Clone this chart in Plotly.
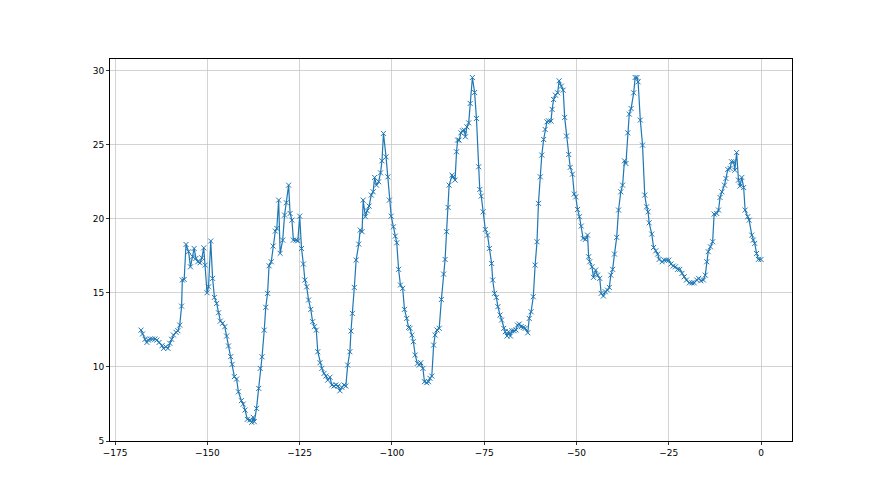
import plotly.graph_objects as go

# hours relative to now, temperature readings
hours = [
    -168.0, -167.6, -166.9, -166.4, -166.0, -165.5, -164.9, -164.2, -163.7, -163.1,
    -162.3, -161.9, -161.3, -160.7, -160.2, -159.7, -159.2, -158.5, -158.0, -157.5,
    -157.0, -156.8, -156.3, -155.8, -155.1, -154.6, -154.0, -153.6, -153.1, -152.6,
    -152.0, -151.5, -151.0, -150.6, -150.1, -149.7, -149.1, -148.6, -148.1, -147.5,
    -147.0, -146.5, -145.9, -145.3, -144.8, -144.3, -143.7, -143.3, -142.7, -142.1,
    -141.6, -140.8, -140.3, -139.8, -139.2,
    -138.5, -138.0, -137.6, -137.3, -136.7, -136.1, -135.7, -135.2, -134.6, -134.2,
    -133.7, -133.3, -132.7, -132.2, -131.6, -131.2, -130.7, -130.3, -129.6, -129.1,
    -128.6, -128.0, -127.6, -127.1, -126.7, -126.0, -125.5, -125.0, -124.5, -124.0,
    -123.6, -123.1, -122.6, -122.0, -121.5, -121.0, -120.5, -120.1, -119.5, -119.0,
    -118.4, -117.9, -117.4, -116.8, -116.3, -115.7, -115.2, -114.6, -114.1, -113.6,
    -113.0, -112.5, -112.0,
    -111.4, -111.1, -110.7, -110.2, -109.7, -109.0, -108.6, -108.1, -107.8, -107.2,
    -106.7, -106.2, -105.6, -105.1, -104.7, -104.2, -103.6, -103.1, -102.7, -102.3,
    -101.6, -101.1, -100.7, -100.2, -99.6, -99.1, -98.7, -98.2, -97.7, -97.1,
    -96.6, -96.0, -95.5, -95.1, -94.6, -94.2, -93.7, -93.1, -92.6, -92.2,
    -91.6, -91.2, -90.6, -90.1, -89.7, -89.2, -88.7, -88.3, -87.8, -87.2,
    -86.6, -86.0, -85.6, -85.2, -84.8, -84.5,
    -83.7, -83.4, -82.9, -82.5, -82.2, -81.8, -81.3, -80.9, -80.4, -80.1,
    -79.7, -79.2, -78.8, -78.2, -77.6, -77.1, -76.5, -76.2, -75.8, -75.3,
    -74.7, -74.1, -73.6, -73.0, -72.7, -72.2, -71.7, -71.3, -70.7, -70.3,
    -69.7, -69.3, -68.8, -68.4, -67.9, -67.5, -66.9, -66.4, -66.0, -65.5,
    -65.0, -64.4, -63.9, -63.2, -62.8, -62.3, -61.7, -61.2, -60.7, -60.3,
    -59.8, -59.4, -58.9, -58.5, -58.0, -57.6,
    -56.9, -56.6, -56.2, -55.7, -55.1, -54.7, -54.1, -53.6, -53.2, -52.7,
    -52.1, -51.7, -51.1, -50.6, -50.2, -49.7, -49.2, -48.7, -48.2, -47.6,
    -47.0, -46.7, -46.4, -45.8, -45.4, -44.8, -44.3, -43.7, -43.3, -42.7,
    -42.2, -41.6, -41.1, -40.7, -40.2, -39.7, -39.1, -38.6, -38.0, -37.5,
    -37.0, -36.6, -36.1, -35.7, -35.2, -34.5, -34.1, -33.6, -33.3, -32.7,
    -32.1, -31.5, -31.0, -30.6, -30.3,
    -29.6, -29.1, -28.5, -28.0, -27.6, -26.8, -26.2, -25.6, -25.0, -24.4,
    -23.8, -23.2, -22.6, -22.0, -21.4, -20.8, -20.2, -19.4, -18.7, -18.1,
    -17.4, -16.9, -16.3, -15.6, -15.1, -14.7, -14.3, -13.7, -13.1, -12.7,
    -12.0, -11.5, -11.1, -10.6, -9.9, -9.5, -9.0, -8.4, -8.0, -7.4,
    -7.1, -6.6, -6.1, -5.7, -5.2, -4.7, -4.3, -3.6, -3.2, -2.5,
    -2.1, -1.7, -1.2, -0.7, 0.0,
]

temps = [
    12.48, 12.22, 11.86, 11.65, 11.81, 11.88, 11.88, 11.88, 11.81, 11.65,
    11.43, 11.25, 11.36, 11.25, 11.59, 11.86, 12.15, 12.33, 12.44, 12.82,
    14.10, 15.86, 15.90, 18.26, 17.77, 16.75, 17.43, 17.99, 17.32, 17.09,
    17.02, 17.36, 18.03, 16.87, 15.00, 15.40, 18.49, 15.97, 14.69, 14.28,
    13.65, 13.09, 12.94, 12.71, 12.08, 11.41, 10.69, 10.17, 9.34, 9.18,
    8.32, 7.72, 7.49, 7.09, 6.46,
    6.42, 6.26, 6.60, 6.30, 7.20, 8.55, 9.90, 10.68, 12.48, 14.02,
    14.96, 16.82, 17.09, 18.15, 19.16, 19.34, 21.25, 17.66, 18.55, 20.24,
    21.07, 22.26, 20.35, 19.90, 18.55, 18.55, 18.51, 20.17, 17.99, 16.94,
    15.86, 15.40, 14.51, 13.88, 13.05, 12.71, 12.48, 11.02, 10.28, 9.90,
    9.56, 9.38, 9.11, 9.30, 8.78, 8.71, 8.78, 8.71, 8.39, 8.62,
    8.78, 8.71, 10.12,
    11.02, 12.42, 13.61, 15.36, 17.21, 18.28, 19.23, 19.12, 21.25, 20.13,
    20.53, 20.85, 21.59, 21.81, 22.78, 22.26, 22.49, 23.09, 23.90, 25.75,
    24.17, 22.82, 21.25, 20.17, 19.45, 18.82, 18.37, 16.58, 15.52, 15.30,
    13.88, 13.27, 12.66, 12.60, 12.15, 11.70, 10.80, 10.24, 10.12, 10.28,
    9.90, 9.00, 8.93, 9.00, 9.23, 9.38, 11.47, 12.15, 12.49, 12.60,
    14.55, 16.26, 17.25, 19.12, 20.76, 22.26,
    22.94, 22.82, 22.60, 24.51, 25.30, 25.30, 25.79, 25.93, 25.97, 25.52,
    26.19, 26.46, 27.77, 29.52, 28.51, 26.76, 23.50, 21.97, 21.52, 20.46,
    19.27, 18.89, 17.99, 16.98, 15.86, 14.96, 14.69, 14.06, 13.50, 13.16,
    12.60, 12.37, 12.08, 12.37, 12.08, 12.44, 12.44, 12.49, 12.82, 12.89,
    12.71, 12.66, 12.60, 12.30, 13.27, 13.72, 14.73, 16.87, 18.44, 21.03,
    22.82, 24.29, 25.34, 26.02, 26.53, 26.60,
    26.58, 27.37, 28.04, 28.33, 28.49, 29.30, 28.94, 28.67, 26.83, 25.57,
    24.33, 23.46, 23.00, 21.66, 21.47, 20.62, 20.13, 19.50, 18.67, 18.60,
    18.89, 17.43, 17.09, 16.75, 16.04, 16.53, 16.19, 15.97, 14.96, 14.78,
    15.07, 15.18, 15.36, 16.19, 16.58, 17.61, 18.74, 20.58, 21.81, 22.26,
    23.90, 23.72, 25.79, 27.05, 27.43, 28.49, 29.52, 29.52, 29.23, 26.65,
    24.96, 21.59, 20.80, 20.46, 19.72,
    18.96, 18.06, 17.83, 17.61, 17.25, 17.09, 17.20, 17.20, 17.20, 16.94,
    16.80, 16.75, 16.58, 16.58, 16.31, 16.08, 15.86, 15.67, 15.67, 15.67,
    15.86, 15.97, 15.81, 15.86, 16.19, 17.09, 17.77, 18.10, 18.44, 20.31,
    20.35, 20.58, 21.43, 21.81, 22.26, 22.71, 23.32, 23.39, 23.84, 23.84,
    23.27, 24.46, 22.60, 22.19, 22.78, 22.10, 20.58, 20.13, 19.90, 18.89,
    18.55, 18.33, 17.65, 17.25, 17.25,
]

x_ticks = [-175, -150, -125, -100, -75, -50, -25, 0]
y_ticks = [5, 10, 15, 20, 25, 30]

fig = go.Figure()
fig.add_trace(go.Scatter(
    x=hours, y=temps, mode="lines+markers",
    line=dict(color="#1f77b4", width=1.2),
    marker=dict(symbol="x-thin", size=5, color="#1f77b4",
                line=dict(color="#1f77b4", width=1)),
    showlegend=False, hoverinfo="skip",
))

axis_common = dict(
    showgrid=True, gridcolor="#c0c0c0", gridwidth=0.7,
    showline=True, linecolor="black", linewidth=1, mirror=True,
    ticks="outside", ticklen=3, tickwidth=0.8, tickcolor="black",
    zeroline=False,
    tickfont=dict(family="DejaVu Sans", size=9, color="black"),
)

fig.update_layout(
    width=880, height=495, autosize=False,
    margin=dict(l=110, r=88, t=59, b=54),
    paper_bgcolor="white", plot_bgcolor="white",
    xaxis=dict(range=[-176.4, 8.4], tickvals=x_ticks, **axis_common),
    yaxis=dict(range=[5.0, 30.77], tickvals=y_ticks, **axis_common),
)

fig.write_html(
    "out.html",
    config={"displayModeBar": False, "staticPlot": True},
    post_script="document.body.style.margin='0';document.body.style.overflow='hidden';",
)
